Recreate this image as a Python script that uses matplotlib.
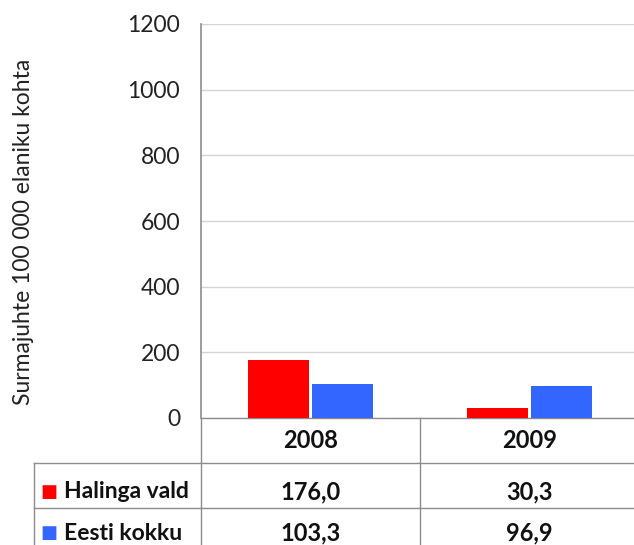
import matplotlib
matplotlib.use("Agg")
import matplotlib.pyplot as plt
import numpy as np

categories = ["2008", "2009"]
series_names = ["Halinga vald", "Eesti kokku"]
halinga = [176.0, 30.3]
eesti = [103.3, 96.9]
yticks = [0, 200, 400, 600, 800, 1000, 1200]
colors = ["#FF0000", "#3366FF"]

plt.rcParams['font.family'] = ['Lato', 'DejaVu Sans']

AX_W = 438.0
AX_H = 394.0
fig = plt.figure(figsize=(6.34, 5.45), dpi=100)
ax = fig.add_axes([201/634, 1 - 418/545, AX_W/634, AX_H/545])

x = np.arange(len(categories))
w = 0.28
gap = 0.007
ax.bar(x - w/2 - gap, halinga, width=w, color=colors[0], zorder=3)
ax.bar(x + w/2 + gap, eesti, width=w, color=colors[1], zorder=3)

ax.set_xlim(-0.5, 1.5)
ax.set_ylim(0, 1200)
ax.set_yticks(yticks)
ax.set_yticklabels([str(t) for t in yticks], fontsize=16.5, color="#222222")
ax.yaxis.grid(True, color="#D4D4D4", linewidth=1, zorder=0)
ax.tick_params(axis='y', length=0, pad=15)
ax.set_xticks([])
for s in ["top", "right", "bottom"]:
    ax.spines[s].set_visible(False)
ax.spines["left"].set_color("#8C8C8C")
ax.spines["left"].set_linewidth(1.2)
ax.set_ylabel("Surmajuhte 100 000 elaniku kohta", fontsize=16.5, color="#222222")

trans = ax.transAxes
px_y = lambda p: -(p - 418) / AX_H
px_x = lambda p: (p - 201) / AX_W
ax.yaxis.set_label_coords(px_x(34), (418 - 232) / AX_H)

line_kw = dict(color="#8C8C8C", linewidth=1.0, transform=trans, clip_on=False)
ax.plot([0, 1.05], [0, 0], **line_kw)
ax.plot([px_x(34), 1.05], [px_y(463), px_y(463)], **line_kw)
ax.plot([px_x(34), 1.05], [px_y(508), px_y(508)], **line_kw)
ax.plot([0, 0], [0, px_y(560)], **line_kw)
ax.plot([0.5, 0.5], [0, px_y(560)], **line_kw)
ax.plot([px_x(34), px_x(34)], [px_y(463), px_y(560)], **line_kw)

col_centers = [(i + 0.5) / len(categories) for i in range(len(categories))]
for cx, cat in zip(col_centers, categories):
    ax.text(cx, px_y(440), cat, transform=trans, ha="center", va="center",
            fontsize=17, fontweight="bold", color="#111111")

rows = [halinga, eesti]
row_y = [px_y(492), px_y(533)]
for ry, name, vals, c in zip(row_y, series_names, rows, colors):
    ax.text(px_x(49), ry, "\u25A0", transform=trans, ha="center", va="center",
            fontsize=13, color=c, family="DejaVu Sans")
    ax.text(px_x(64), ry, name, transform=trans, ha="left", va="center",
            fontsize=16.5, fontweight="bold", color="#111111")
    for cx, v in zip(col_centers, vals):
        ax.text(cx, ry, f"{v:.1f}".replace(".", ","), transform=trans, ha="center",
                va="center", fontsize=17, fontweight="bold", color="#111111")

fig.savefig("out.png", dpi=100)
